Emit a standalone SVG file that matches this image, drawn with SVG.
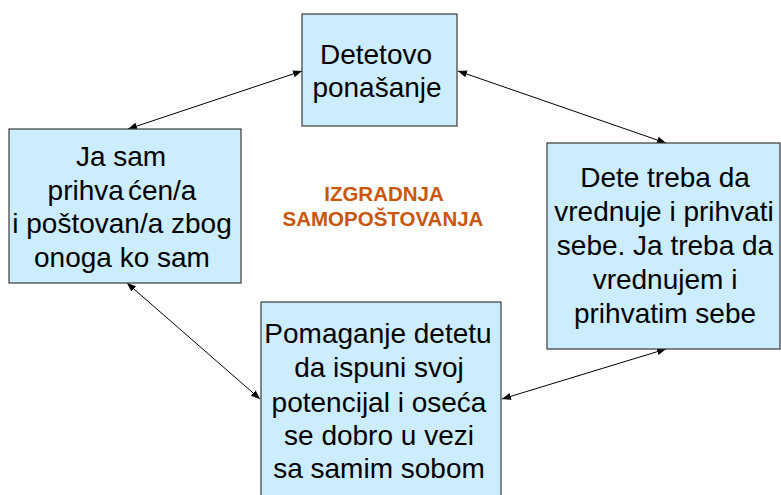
<svg xmlns="http://www.w3.org/2000/svg" width="781" height="495" viewBox="0 0 781 495">
<style>
.box{fill:#CCECFF;stroke:#3a3a3a;stroke-width:1.2}
.t{font-family:"Liberation Sans",Arial,sans-serif;font-size:28px;fill:#000;text-anchor:middle}
.title{font-family:"Liberation Sans",Arial,sans-serif;font-size:20.5px;font-weight:bold;fill:#C8560C;text-anchor:middle}
.conn{stroke:#000;stroke-width:1;fill:none;marker-start:url(#ah);marker-end:url(#ah)}
</style>
<defs>
<marker id="ah" viewBox="0 0 10 10" refX="10" refY="5" markerWidth="9" markerHeight="9" markerUnits="userSpaceOnUse" orient="auto-start-reverse">
<path d="M0,1 L10,5 L0,9 Z" fill="#000"/>
</marker>
</defs>
<rect width="781" height="495" fill="#fff"/>
<g id="connectors">
<line class="conn" x1="128" y1="129" x2="302" y2="71"/>
<line class="conn" x1="458" y1="71" x2="666" y2="143"/>
<line class="conn" x1="127" y1="283" x2="260" y2="399"/>
<line class="conn" x1="502" y1="399" x2="666" y2="349"/>
</g>
<g id="node-top">
<rect class="box" x="302" y="14" width="155" height="112"/>
<text class="t" x="376" y="64">Detetovo</text>
<text class="t" x="377" y="97">ponašanje</text>
</g>
<g id="node-left">
<rect class="box" x="9" y="129" width="232" height="154"/>
<text class="t" x="121" y="166">Ja sam</text>
<text class="t" x="122" y="200">prihva<tspan dx="4">ćen/a</tspan></text>
<text class="t" x="122" y="233">i poštovan/a zbog</text>
<text class="t" x="122" y="267">onoga ko sam</text>
</g>
<g id="node-right">
<rect class="box" x="547" y="143" width="233" height="206"/>
<text class="t" x="665" y="187">Dete treba da</text>
<text class="t" x="664" y="221">vrednuje i prihvati</text>
<text class="t" x="665" y="255">sebe. Ja treba da</text>
<text class="t" x="665" y="289">vrednujem i</text>
<text class="t" x="665" y="323">prihvatim sebe</text>
</g>
<g id="node-bottom">
<rect class="box" x="261" y="302" width="240" height="200"/>
<text class="t" x="378" y="343">Pomaganje detetu</text>
<text class="t" x="379" y="377">da ispuni svoj</text>
<text class="t" x="379" y="412">potencijal i oseća</text>
<text class="t" x="379" y="445">se dobro u vezi</text>
<text class="t" x="379" y="478">sa samim sobom</text>
</g>
<g id="title">
<text class="title" x="384" y="201">IZGRADNJA</text>
<text class="title" x="383" y="226">SAMOPOŠTOVANJA</text>
</g>
</svg>
